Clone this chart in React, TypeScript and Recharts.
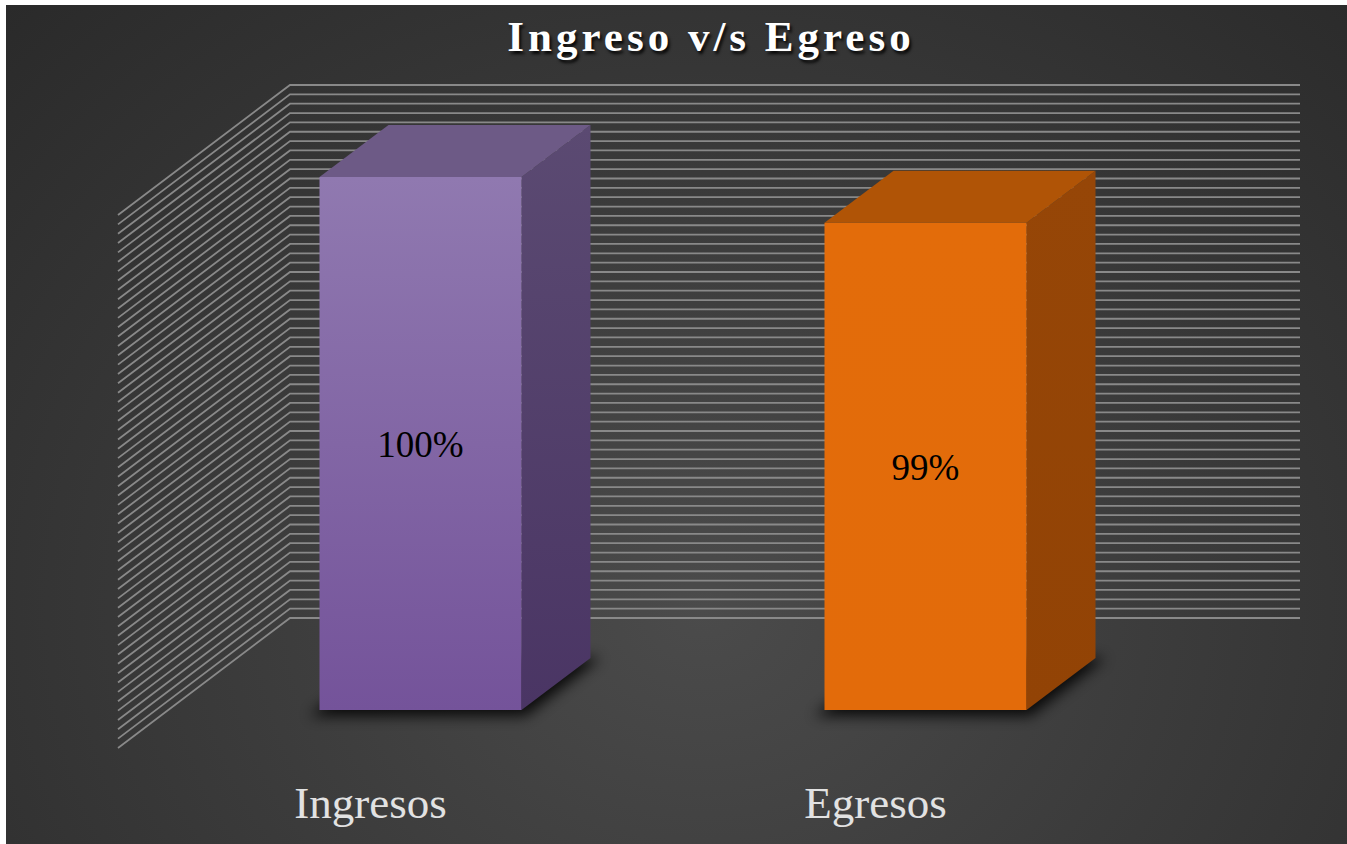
import React from "react";
import { BarChart, Bar, XAxis, YAxis, CartesianGrid, LabelList } from "recharts";

// categories and values (share of total)
const categories = ["Ingresos", "Egresos"];
const values = [1.0, 0.9902];

// face colours per bar
const frontTop = ["#9079b0", "#e36c0a"];
const frontBottom = ["#74539a", "#e36b0a"];
const topFace = ["#6d5a86", "#b05406"];
const sideTop = ["#5b4a72", "#964607"];
const sideBottom = ["#4a3564", "#924305"];

// value axis (only gridlines are drawn)
const axisMin = 0.886;
const axisMax = 1.0;
const gridStep = 0.002;
const gridTicks = Array.from(
  { length: Math.round((axisMax - axisMin) / gridStep) + 1 },
  (_, i) => +(axisMin + i * gridStep).toFixed(3)
);

const data = categories.map((name, i) => ({ name, value: values[i] }));

const W = 1341;
const H = 839;
const X_AXIS_H = 30;
const margin = { top: 172, right: 169, bottom: 134 - X_AXIS_H, left: 162 };

// oblique 3d offsets
const WALL_DX = 122; // back wall vs bar front plane
const WALL_DY = -92;
const SIDE_DX = -172; // side wall depth
const SIDE_DY = 130;
const BAR_DX = 69; // bar depth
const BAR_DY = -52;
const FLOOR_DX = -50; // front edge of floor vs bar front plane

const serif = "'Liberation Serif', 'DejaVu Serif', serif";

const GridLine = (props: any) => {
  const { x1, x2, y1, index } = props;
  const by = y1 + WALL_DY;
  const bx1 = x1 + WALL_DX;
  const bx2 = x2 + WALL_DX;
  return (
    <path
      key={`g-${index}`}
      d={`M${bx1 + SIDE_DX},${by + SIDE_DY}L${bx1},${by}L${bx2},${by}`}
      stroke="#898989"
      strokeWidth={1.8}
      fill="none"
    />
  );
};

const Bar3D = (props: any) => {
  const { x, y, width, height, index } = props;
  const yb = y + height;
  const xr = x + width;
  const pad = 10;
  return (
    <g>
      {/* floor shadow */}
      <polygon
        points={`${x - pad},${yb + 6} ${xr + 4},${yb + 6} ${xr + BAR_DX + pad},${yb + BAR_DY} ${x + BAR_DX},${yb + BAR_DY - 4}`}
        fill="#000"
        opacity={0.85}
        filter="url(#barShadow)"
      />
      {/* side */}
      <polygon
        points={`${xr},${y} ${xr + BAR_DX},${y + BAR_DY} ${xr + BAR_DX},${yb + BAR_DY} ${xr},${yb}`}
        fill={`url(#side-${index})`}
      />
      {/* top */}
      <polygon
        points={`${x},${y} ${x + BAR_DX},${y + BAR_DY} ${xr + BAR_DX},${y + BAR_DY} ${xr},${y}`}
        fill={topFace[index]}
      />
      {/* front */}
      <rect x={x} y={y} width={width} height={height} fill={`url(#front-${index})`} />
    </g>
  );
};

const CategoryTick = (props: any) => {
  const { x, y, payload } = props;
  return (
    <text
      x={x + FLOOR_DX}
      y={y + 100}
      textAnchor="middle"
      fill="#e2e2e2"
      fontSize={45}
      fontFamily={serif}
    >
      {payload.value}
    </text>
  );
};

export default function App() {
  return (
    <div
      style={{
        position: "absolute",
        left: 6,
        top: 5,
        width: W,
        height: H,
        background:
          "radial-gradient(ellipse farthest-corner at 52% 72%, #4b4b4b 0%, #3c3c3c 45%, #2a2a2a 100%)",
        overflow: "hidden",
      }}
    >
      <div
        style={{
          position: "absolute",
          left: 705,
          top: 11,
          transform: "translateX(-50%)",
          whiteSpace: "nowrap",
          fontFamily: serif,
          fontWeight: "bold",
          fontSize: 43,
          lineHeight: "42px",
          letterSpacing: 4,
          color: "#ffffff",
          textShadow: "2px 3px 3px rgba(0,0,0,0.85)",
        }}
      >
        Ingreso v/s Egreso
      </div>
      <BarChart
        width={W}
        height={H}
        data={data}
        margin={margin}
        barCategoryGap="30%"
        style={{ position: "absolute", left: 0, top: 0 }}
      >
        <defs>
          {categories.map((c, i) => (
            <linearGradient key={`f${c}`} id={`front-${i}`} x1="0" y1="0" x2="0" y2="1">
              <stop offset="0%" stopColor={frontTop[i]} />
              <stop offset="100%" stopColor={frontBottom[i]} />
            </linearGradient>
          ))}
          {categories.map((c, i) => (
            <linearGradient key={`s${c}`} id={`side-${i}`} x1="0" y1="0" x2="0" y2="1">
              <stop offset="0%" stopColor={sideTop[i]} />
              <stop offset="100%" stopColor={sideBottom[i]} />
            </linearGradient>
          ))}
          <filter id="barShadow" x="-20%" y="-50%" width="140%" height="200%">
            <feGaussianBlur stdDeviation="7" />
          </filter>
        </defs>
        <CartesianGrid vertical={false} horizontal={GridLine} />
        <XAxis
          dataKey="name"
          height={X_AXIS_H}
          axisLine={false}
          tickLine={false}
          tick={CategoryTick}
          interval={0}
        />
        <YAxis hide domain={[axisMin, axisMax]} ticks={gridTicks} interval={0} />
        <Bar dataKey="value" shape={Bar3D} isAnimationActive={false}>
          <LabelList
            dataKey="value"
            position="center"
            formatter={(v: any) => `${Math.round(Number(v) * 100)}%`}
            fill="#000000"
            fontSize={37}
            fontFamily={serif}
          />
        </Bar>
      </BarChart>
    </div>
  );
}
